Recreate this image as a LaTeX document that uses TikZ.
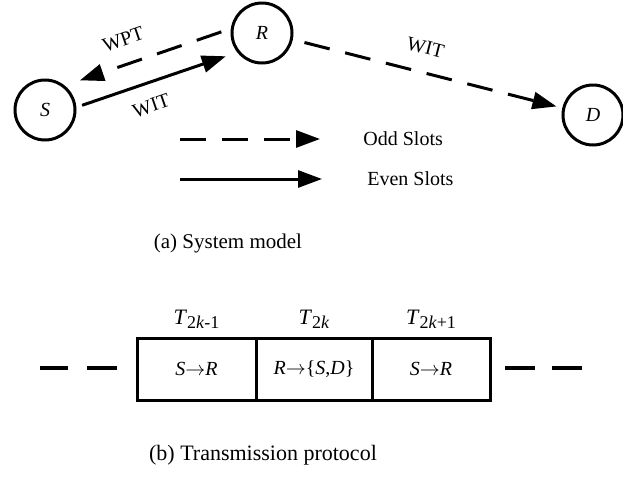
\documentclass[tikz,border=0pt]{standalone}
\usepackage{fontspec}
\setmainfont{Liberation Serif}
\usetikzlibrary{arrows.meta,positioning}

\newcommand{\slotT}[1]{\textit{T}\raisebox{-0.45ex}{\fontsize{9}{10}\selectfont #1}}

\tikzset{
    station/.style={circle, draw, line width=1.5pt, minimum size=30pt, inner sep=0pt, font=\itshape},
    link/.style={line width=1.5pt, -{Triangle[length=12pt,width=8.5pt]}},
    oddlink/.style={link, dash pattern=on 13pt off 8pt},
    linklabel/.style={font=\fontsize{10}{12}\selectfont, sloped},
    slot/.style={rectangle, draw, line width=1.5pt, outer sep=0pt, minimum height=31pt, font=\fontsize{10}{12}\selectfont},
    gapdash/.style={line width=2pt}
}

\begin{document}
\begin{tikzpicture}[x=0.5pt, y=-0.5pt, >=stealth]
    \useasboundingbox (0,0) rectangle (623,488);

    % --- TOP: System model ---
    \begin{scope}
        \node[station] (S) at (45,110) {S};
        \node[station] (R) at (262,33) {R};
        \node[station] (D) at (593,115) {D};

        % odd slot: R -> S (WPT), R -> D (WIT)
        \draw[oddlink, shorten <=5pt, shorten >=8pt] (R.172) -- (S.51)
            node[linklabel, pos=0.6, above=5pt] {WPT};
        \draw[oddlink, shorten <=6pt, shorten >=3pt] (R.-12) -- (D.167)
            node[linklabel, pos=0.47, above=5pt] {WIT};

        % even slot: S -> R (WIT)
        \draw[link, shorten <=3pt, shorten >=6pt] (S.5) -- (R.218)
            node[linklabel, pos=0.42, below=4pt] {WIT};

        % legend
        \node[anchor=west, inner sep=0pt, font=\fontsize{10}{12}\selectfont] (odd) at (363,139) {Odd Slots};
        \node[anchor=west, inner sep=0pt, font=\fontsize{10}{12}\selectfont] (even) at (367,179) {Even Slots};
        \coordinate (oddtail) at (180,139);
        \coordinate (eventail) at (180,179);
        \draw[oddlink, shorten >=21.5pt] (oddtail) -- (odd.west);
        \draw[link, shorten >=22.5pt] (eventail) -- (even.west);

        \node[font=\fontsize{10.5}{12}\selectfont] (capa) at (228,243) {(a) System model};
    \end{scope}

    % --- BOTTOM: Transmission protocol ---
    \begin{scope}
        \node[slot, minimum width=59.5pt] (c1) at (196.5,369) {\textit{S}$\rightarrow$\textit{R}};
        \node[slot, minimum width=58pt, right=0pt of c1] (c2) {\textit{R}$\rightarrow$\{\textit{S},\textit{D}\}};
        \node[slot, minimum width=59pt, right=0pt of c2] (c3) {\textit{S}$\rightarrow$\textit{R}};

        \node[above=1pt of c1, font=\fontsize{11}{12}\selectfont] (t1) {\slotT{2\textit{k}-1}};
        \node[above=1pt of c2, font=\fontsize{11}{12}\selectfont] (t2) {\slotT{2\textit{k}}};
        \node[above=1pt of c3, font=\fontsize{11}{12}\selectfont] (t3) {\slotT{2\textit{k}+1}};

        % slots before and after
        \draw[gapdash] (40,368) -- (68,368);
        \draw[gapdash] (87,368) -- (117,368);
        \draw[gapdash] (505,368) -- (535,368);
        \draw[gapdash] (552,368) -- (582,368);

        \node[font=\fontsize{11}{12}\selectfont] (capb) at (263,455) {(b) Transmission protocol};
    \end{scope}

\end{tikzpicture}
\end{document}
